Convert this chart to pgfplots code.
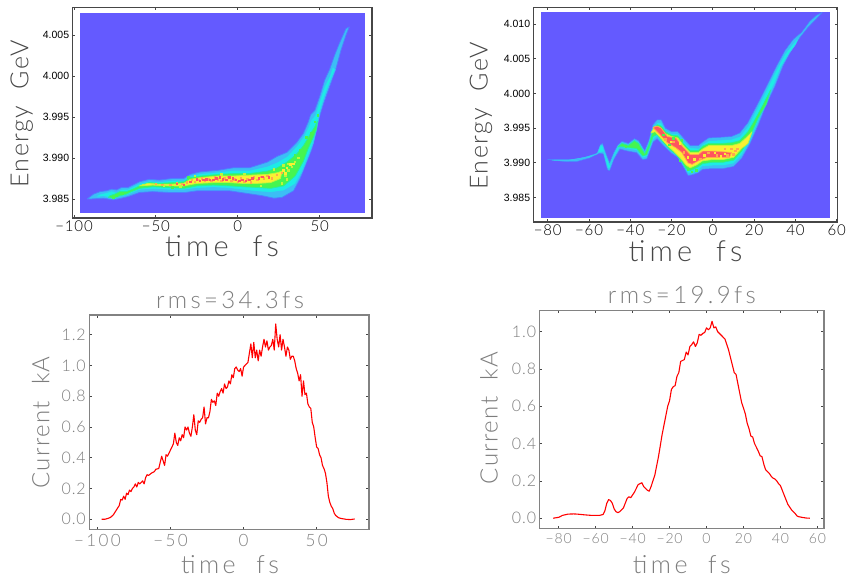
\documentclass[border=0pt]{standalone}
\usepackage{pgfplots}
\pgfplotsset{compat=1.18}
\usepackage{fontspec}
\setmainfont{Liberation Sans}
\newfontfamily\hf[LetterSpace=6]{Lato Light}
\newfontfamily\hfw[LetterSpace=14]{Lato Light}
\definecolor{bg}{RGB}{100,90,255}
\definecolor{la}{RGB}{75,130,255}
\definecolor{lb}{RGB}{60,190,245}
\definecolor{lc}{RGB}{30,235,230}
\definecolor{ld}{RGB}{40,240,150}
\definecolor{le}{RGB}{70,245,80}
\definecolor{lf}{RGB}{190,245,60}
\definecolor{lg}{RGB}{250,240,50}
\definecolor{lh}{RGB}{255,170,75}
\definecolor{li}{RGB}{255,85,95}
\definecolor{axd}{RGB}{70,70,70}
\definecolor{axg}{RGB}{130,130,130}
\definecolor{txg}{RGB}{125,125,125}
\pgfplotsset{
  base/.style={scale only axis, axis on top=true, tick align=inside, major tick length=2.6pt,
    xtick pos=both, ytick pos=both, tick style={line width=0.9pt},
    every axis x label/.style={anchor=center},
    every axis y label/.style={anchor=center,rotate=90}},
  heat/.style={base, axis line style={axd,line width=1.2pt}, tick style={axd,line width=0.9pt},
    xticklabel style={font=\hf\fontsize{15}{15}\selectfont,text=black,yshift=1pt},
    yticklabel style={font=\fontsize{10.5}{11}\selectfont,text=black},
    xlabel style={font=\hfw\fontsize{29}{29}\selectfont,text=axd},
    ylabel style={font=\hf\fontsize{25}{25}\selectfont,text=axd}},
  cur/.style={base, axis line style={axg,line width=1.2pt}, tick style={axd,line width=0.7pt},
    xticklabel style={text=txg,yshift=-2pt},
    yticklabel style={text=txg},
    xlabel style={font=\hfw\fontsize{25}{25}\selectfont,text=txg},
    ylabel style={font=\hf\fontsize{24}{24}\selectfont,text=txg},
    title style={text=txg,anchor=center}},
  poly/.style 2 args={fill=#1,draw=#2,line width=0.75pt,line join=round},
  specks/.style={only marks,mark=square*,mark size=0.75pt,color=#1,mark options={fill=#1,draw=#1,line width=0pt}},
  curve/.style={red,line width=1.1pt,line join=round,mark=none}
}
\begin{document}
\begin{tikzpicture}[x=1pt,y=1pt]
\useasboundingbox (0,0) rectangle (846,580);

% ---------- top left ----------
\begin{axis}[heat, at={(72.7pt,362pt)}, anchor=south west, width=299.3pt, height=210.7pt,
  xmin=-100.8, xmax=81.9, ymin=3.98268, ymax=4.0084,
  xtick={-100,-50,0,50}, xticklabels={−100,−50,0,50},
  ytick={3.985,3.990,3.995,4.000,4.005}, yticklabels={3.985,3.990,3.995,4.000,4.005},
  xlabel={time\ \ fs}, ylabel={Energy\ \ GeV},
  xlabel style={at={(axis description cs:0.499,-0.133)}},
  ylabel style={at={(axis description cs:-0.17,0.494)}}]
\addplot[fill=bg,draw=none] coordinates {(-96.3,3.98325)(77.8,3.98325)(77.8,4.00776)(-96.3,4.00776)} -- cycle;
\addplot[poly={lb}{la}] coordinates {(-92,3.9850)(-88,3.9856)(-84,3.9859)(-80,3.9860)(-77,3.9862)(-74,3.9861)(-71,3.9864)(-67,3.9864)(-64,3.9867)(-60,3.9871)(-54,3.9874)(-48,3.9873)(-40,3.9875)(-33,3.9875)(-29,3.9880)(-23,3.9883)(-12,3.9885)(-3,3.9888)(7,3.9888)(18,3.9895)(24,3.9902)(30,3.9907)(36,3.9919)(40,3.9930)(43,3.9944)(44.5,3.9953)(47,3.9958)(50,3.9975)(53,3.9995)(56,4.0008)(59,4.0025)(62,4.0040)(66,4.0058)(68,4.0060)(66,4.0050)(63,4.0032)(60,4.0010)(57,3.9993)(52,3.9965)(49,3.9945)(47,3.9925)(45,3.9910)(42,3.9895)(38,3.9875)(34,3.9860)(27,3.9852)(22,3.9851)(15,3.9854)(5,3.9857)(-5,3.9860)(-15,3.9860)(-25,3.9860)(-32,3.9858)(-42,3.9858)(-52,3.9859)(-60,3.9858)(-67,3.9853)(-71,3.9851)(-76,3.9849)(-82,3.9851)(-90,3.9850)} -- cycle;
\addplot[poly={lc}{lb}] coordinates {(-88,3.9852)(-84,3.9856)(-80,3.9858)(-77,3.9860)(-74,3.9858)(-71,3.9862)(-67,3.9862)(-64,3.9865)(-60,3.9869)(-54,3.9872)(-48,3.9871)(-40,3.9873)(-33,3.9873)(-29,3.9878)(-23,3.9881)(-12,3.9883)(-3,3.9885)(7,3.9885)(18,3.9890)(24,3.9895)(30,3.9902)(36,3.9915)(40,3.9926)(43,3.9938)(44.5,3.9946)(47,3.9952)(50,3.9970)(53,3.9988)(56,4.0000)(58,4.0012)(59.5,4.0008)(57,3.9996)(53,3.9975)(50,3.9955)(48,3.9935)(46,3.9918)(43,3.9902)(39,3.9882)(35,3.9868)(28,3.9860)(20,3.9858)(12,3.9859)(3,3.9861)(-5,3.9863)(-15,3.9864)(-25,3.9863)(-33,3.9861)(-42,3.9861)(-52,3.9862)(-60,3.9861)(-67,3.9855)(-71,3.9853)(-76,3.9851)(-82,3.9853)} -- cycle;
\addplot[poly={le}{ld}] coordinates {(-78,3.9854)(-75,3.9856)(-72,3.9859)(-68,3.9859)(-64,3.9862)(-60,3.9866)(-54,3.9870)(-48,3.9869)(-40,3.9870)(-33,3.9871)(-29,3.9876)(-23,3.9878)(-12,3.9880)(-3,3.9881)(7,3.9881)(18,3.9884)(24,3.9888)(30,3.9895)(36,3.9905)(40,3.9915)(43,3.9925)(45,3.9932)(47,3.9938)(48.5,3.9945)(48,3.9935)(46,3.9925)(43,3.9912)(40,3.9896)(35,3.9878)(28,3.9866)(20,3.9863)(12,3.9864)(3,3.9865)(-5,3.9866)(-15,3.9867)(-25,3.9866)(-33,3.9863)(-42,3.9864)(-52,3.9865)(-60,3.9863)(-65,3.9859)(-68,3.9856)(-72,3.9854)(-76,3.9851)(-79,3.9852)} -- cycle;
\addplot[poly={lg}{lf}] coordinates {(-55,3.9869)(-48,3.9868)(-40,3.9868)(-33,3.9869)(-29,3.9874)(-23,3.9876)(-12,3.9878)(-3,3.9878)(7,3.9879)(18,3.9880)(24,3.9882)(27,3.9884)(26,3.9875)(20,3.9870)(12,3.9869)(3,3.9869)(-5,3.9870)(-15,3.9870)(-25,3.9869)(-33,3.9866)(-42,3.9866)(-52,3.9867)(-60,3.9866)} -- cycle;
\addplot[specks=lh] coordinates {(-50,3.9868)(-46,3.9867)(-41,3.9867)(-37,3.9869)(-34,3.9868)(-31,3.9870)(-28,3.9873)(-26,3.9871)(-24,3.9873)(-22,3.9875)(-20,3.9872)(-18,3.9874)(-16,3.9872)(-14,3.9876)(-12,3.9874)(-10,3.9872)(-8,3.9875)(-6,3.9877)(-4,3.9872)(-2,3.9874)(0,3.9871)(2,3.9875)(4,3.9871)(6,3.9874)(8,3.9870)(10,3.9876)(12,3.9873)(14,3.9877)(16,3.9875)(18,3.9878)(21,3.9875)(24,3.9879)(27,3.9882)};
\addplot[specks=li] coordinates {(-37,3.9868)(-33,3.9867)(-29,3.9871)(-25,3.9874)(-23,3.9872)(-21,3.9873)(-19,3.9874)(-17,3.9873)(-15,3.9873)(-13,3.9875)(-11,3.9876)(-9,3.9874)(-7,3.9873)(-5,3.9876)(-3,3.9875)(-1,3.9873)(1,3.9872)(3,3.9873)(5,3.9872)(7,3.9873)(9,3.9875)(13,3.9875)(15,3.9877)(19,3.9876)};
\addplot[specks=le] coordinates {(-76,3.9852)(-74,3.9854)(-70,3.9856)(-40,3.9864)(-30,3.9876)(35,3.9903)(38,3.9910)(42,3.9925)(44,3.9920)(45,3.9930)(47,3.9944)(49,3.9952)};
\addplot[specks=lf] coordinates {(-58,3.9867)(-45,3.9866)(-35,3.9865)(-26,3.9878)(-10,3.9880)(4,3.9880)(22,3.9886)(28,3.9891)(31,3.9893)(35,3.9895)(37,3.9900)(27,3.9869)(14,3.9866)(29,3.9878)(31,3.9885)(33,3.9889)(30,3.9874)};
\addplot[specks=lg] coordinates {(28,3.9885)(30,3.9888)(32,3.9892)(29,3.9881)(34,3.9893)};
\end{axis}

% ---------- top right ----------
\begin{axis}[heat, at={(533.7pt,358pt)}, anchor=south west, width=303.6pt, height=214.3pt,
  xmin=-86.8, xmax=60.3, ymin=3.9815, ymax=4.01235,
  xtick={-80,-60,-40,-20,0,20,40,60}, xticklabels={−80,−60,−40,−20,0,20,40,60},
  ytick={3.985,3.990,3.995,4.000,4.005,4.010}, yticklabels={3.985,3.990,3.995,4.000,4.005,4.010},
  xlabel={time\ \ fs}, ylabel={Energy\ \ GeV},
  xlabel style={at={(axis description cs:0.50,-0.135)}},
  ylabel style={at={(axis description cs:-0.174,0.495)}}]
\addplot[fill=bg,draw=none] coordinates {(-83.3,3.98212)(57,3.98212)(57,4.01178)(-83.3,4.01178)} -- cycle;
\addplot[fill=lb,draw=la,line width=0.5pt,line join=round] coordinates {(-80,3.9905)(-72,3.9905)(-66,3.9905)(-60,3.9910)(-56,3.9914)(-54.5,3.9926)(-53.5,3.9928)(-52,3.9915)(-50,3.9900)(-48,3.9915)(-46,3.9926)(-44,3.9931)(-41,3.9928)(-38,3.9935)(-36,3.9932)(-33,3.9918)(-31,3.9932)(-29,3.9955)(-27,3.9962)(-25,3.9962)(-23,3.9950)(-20,3.9945)(-17,3.9945)(-14,3.9935)(-11,3.9925)(-7,3.9925)(-5,3.9930)(-2,3.9936)(4,3.9937)(9,3.9938)(13,3.9943)(17,3.9958)(20,3.9975)(24,3.9998)(28,4.0022)(31,4.0040)(35,4.0062)(39,4.0078)(43,4.0088)(47,4.0104)(50,4.0112)(53,4.0117)(50,4.0107)(46,4.0095)(42,4.0080)(38,4.0062)(34,4.0040)(30,4.0010)(26,3.9985)(22,3.9955)(18,3.9928)(14,3.9907)(10,3.9895)(5,3.9892)(0,3.9892)(-5,3.9891)(-7,3.9886)(-10,3.9883)(-12,3.9882)(-14,3.9893)(-17,3.9908)(-20,3.9914)(-24,3.9925)(-27,3.9935)(-29,3.9930)(-32,3.9906)(-34,3.9905)(-37,3.9915)(-41,3.9917)(-45,3.9920)(-48,3.9905)(-50,3.9889)(-51,3.9890)(-53,3.9913)(-55,3.9914)(-60,3.9907)(-66,3.9902)(-72,3.9902)} -- cycle;
\addplot[fill=lc,draw=lb,line width=0.5pt,line join=round] coordinates {(-78,3.9904)(-70,3.9904)(-62,3.9908)(-56,3.9913)(-54.5,3.9925)(-53.5,3.9926)(-52,3.9912)(-50,3.9897)(-48,3.9912)(-46,3.9924)(-44,3.9929)(-41,3.9926)(-38,3.9933)(-36,3.9930)(-33,3.9915)(-31,3.9929)(-29,3.9950)(-27,3.9958)(-25,3.9958)(-23,3.9947)(-20,3.9942)(-17,3.9942)(-14,3.9931)(-11,3.9922)(-7,3.9921)(-5,3.9927)(-2,3.9932)(4,3.9933)(9,3.9934)(13,3.9938)(17,3.9953)(20,3.9970)(24,3.9993)(28,4.0017)(31,4.0035)(35,4.0057)(39,4.0072)(42,4.0083)(40,4.0070)(37,4.0058)(33,4.0038)(30,4.0015)(26,3.9990)(22,3.9960)(18,3.9932)(14,3.9911)(10,3.9899)(5,3.9896)(0,3.9896)(-5,3.9895)(-7,3.9889)(-10,3.9886)(-12,3.9885)(-14,3.9896)(-17,3.9910)(-20,3.9917)(-24,3.9928)(-27,3.9938)(-29,3.9933)(-32,3.9909)(-34,3.9907)(-37,3.9918)(-41,3.9920)(-45,3.9923)(-48,3.9908)(-50,3.9892)(-51,3.9893)(-53,3.9916)(-55,3.9915)(-60,3.9908)(-70,3.9903)} -- cycle;
\addplot[fill=le,draw=ld,line width=0.7pt,line join=round] coordinates {(-46,3.9923)(-44,3.9928)(-41,3.9925)(-38,3.9932)(-36,3.9928)(-33,3.9913)(-31,3.9926)(-29,3.9946)(-27,3.9955)(-25,3.9953)(-23,3.9945)(-20,3.9940)(-17,3.9939)(-14,3.9927)(-11,3.9918)(-7,3.9918)(-5,3.9924)(-2,3.9928)(4,3.9928)(9,3.9929)(13,3.9932)(17,3.9945)(20,3.9960)(24,3.9982)(28,4.0005)(26,3.9985)(22,3.9965)(18,3.9938)(14,3.9917)(10,3.9904)(5,3.9901)(0,3.9901)(-5,3.9899)(-8,3.9893)(-11,3.9889)(-13,3.9892)(-15,3.9902)(-18,3.9913)(-21,3.9920)(-24,3.9930)(-27,3.9941)(-29,3.9938)(-32,3.9912)(-34,3.9910)(-37,3.9921)(-41,3.9922)(-45,3.9924)} -- cycle;
\addplot[fill=lg,draw=lf,line width=0.7pt,line join=round] coordinates {(-30,3.9943)(-28,3.9953)(-26,3.9952)(-23,3.9942)(-20,3.9938)(-17,3.9936)(-14,3.9924)(-11,3.9915)(-7,3.9915)(-5,3.9920)(-2,3.9925)(4,3.9925)(9,3.9925)(13,3.9928)(16,3.9936)(19,3.9945)(17,3.9928)(14,3.9921)(10,3.9908)(5,3.9905)(0,3.9905)(-5,3.9903)(-8,3.9897)(-11,3.9893)(-13,3.9897)(-16,3.9908)(-19,3.9917)(-22,3.9925)(-25,3.9935)(-28,3.9945)} -- cycle;
\addplot[fill=li,draw=lh,line width=0.7pt,line join=round] coordinates {(-29,3.9951)(-27,3.9953)(-25,3.9950)(-22,3.9938)(-18,3.9936)(-15,3.9925)(-11,3.9912)(-7,3.9912)(-5,3.9917)(0,3.9917)(5,3.9916)(9,3.9915)(8,3.9908)(3,3.9908)(-3,3.9908)(-7,3.9903)(-10,3.9898)(-12,3.9900)(-15,3.9915)(-18,3.9922)(-22,3.9929)(-26,3.9942)} -- cycle;
\addplot[specks=lg] coordinates {(-20,3.9930)(-16,3.9928)(-12,3.9908)(-9,3.9905)(-4,3.9911)(1,3.9914)(4,3.9909)(6,3.9913)};
\addplot[specks=lh] coordinates {(-23,3.9934)(-19,3.9930)(-14,3.9915)(-6,3.9906)(-2,3.9914)(2,3.9911)(7,3.9911)(10,3.9912)(11,3.9917)(12,3.9920)(9,3.9920)(6,3.9920)};
\addplot[specks=le] coordinates {(-24,3.9940)(-21,3.9926)(-16,3.9903)(-12,3.9890)(-10,3.9887)(-8,3.9889)(-15,3.9932)(-19,3.9935)(-42,3.9924)};
\end{axis}

% ---------- bottom left ----------
\begin{axis}[cur, at={(89.3pt,50.7pt)}, anchor=south west, width=279.7pt, height=214.3pt,
  xmin=-105.5, xmax=85.8, ymin=-0.065, ymax=1.328,
  xtick={-100,-50,0,50}, xticklabels={−100,−50,0,50},
  ytick={0,0.2,0.4,0.6,0.8,1.0,1.2}, yticklabels={0.0,0.2,0.4,0.6,0.8,1.0,1.2},
  xticklabel style={font=\hfw\fontsize{17}{17}\selectfont},
  yticklabel style={font=\hf\fontsize{16}{16}\selectfont},
  xlabel={time\ \ fs}, ylabel={Current\ \ kA}, title={\hfw\fontsize{24}{24}\selectfont rms=34.3fs},
  xlabel style={at={(axis description cs:0.503,-0.167)}},
  ylabel style={at={(axis description cs:-0.174,0.498)}},
  title style={at={(axis description cs:0.503,1.043)}}]
\addplot[curve] coordinates {(-97,0)(-95,0)(-93,0.005)(-91,0.012)(-89,0.03)(-87,0.06)(-85,0.09)(-84,0.13)(-83,0.125)(-82,0.15)(-81,0.13)(-80,0.17)(-79,0.16)(-78,0.19)(-77,0.18)(-76,0.2)(-75,0.21)(-74,0.23)(-73,0.21)(-72,0.24)(-71,0.23)(-70,0.24)(-69,0.25)(-68,0.23)(-67,0.27)(-66,0.29)(-65,0.285)(-63,0.3)(-61,0.31)(-60,0.325)(-58,0.33)(-57,0.37)(-56,0.41)(-55,0.38)(-54,0.35)(-53,0.42)(-52,0.41)(-50,0.45)(-48,0.49)(-47,0.56)(-46,0.5)(-45,0.48)(-44,0.53)(-43,0.51)(-42,0.55)(-41,0.53)(-40,0.6)(-39,0.58)(-38,0.6)(-37,0.56)(-36,0.54)(-35,0.6)(-34,0.68)(-33,0.58)(-32,0.55)(-31,0.64)(-30,0.63)(-29,0.65)(-28,0.66)(-27,0.73)(-26,0.62)(-25,0.66)(-24,0.66)(-23,0.7)(-22,0.78)(-21,0.76)(-20,0.77)(-19,0.74)(-18,0.82)(-17,0.8)(-16,0.83)(-15,0.85)(-14,0.82)(-13,0.88)(-12,0.85)(-11,0.86)(-10,0.9)(-9,0.88)(-8,0.94)(-7,0.92)(-6,0.98)(-5,0.99)(-4,0.97)(-3,0.96)(-2,0.98)(-1,0.93)(0,0.99)(1,1.0)(2,1.01)(3,1.02)(4,1.08)(5,1.14)(6,1.05)(7,1.15)(8,1.05)(9,1.1)(10,1.03)(11,1.1)(12,1.06)(13,1.12)(14,1.17)(15,1.12)(16,1.16)(17,1.1)(18,1.12)(19,1.13)(20,1.17)(21,1.1)(22,1.27)(23,1.17)(24,1.12)(25,1.2)(26,1.1)(27,1.17)(28,1.12)(29,1.06)(30,1.12)(31,1.1)(32,1.04)(33,1.06)(34,1.06)(35,1.03)(36,0.98)(37,0.95)(38,0.9)(39,0.94)(40,0.8)(41,0.9)(42,0.81)(43,0.82)(44,0.75)(45,0.73)(46,0.72)(47,0.63)(48,0.6)(49,0.53)(50,0.47)(51,0.46)(52,0.42)(53,0.4)(54,0.35)(55,0.33)(56,0.3)(57,0.24)(58,0.15)(59,0.11)(60,0.085)(61,0.07)(62,0.04)(63,0.025)(65,0.01)(67,0.005)(70,0)(73,-0.002)(76,0.002)};
\end{axis}

% ---------- bottom right ----------
\begin{axis}[cur, at={(539.7pt,51.7pt)}, anchor=south west, width=284.3pt, height=218pt,
  xmin=-90.3, xmax=63.6, ymin=-0.054, ymax=1.114,
  xtick={-80,-60,-40,-20,0,20,40,60}, xticklabels={−80,−60,−40,−20,0,20,40,60},
  ytick={0,0.2,0.4,0.6,0.8,1.0}, yticklabels={0.0,0.2,0.4,0.6,0.8,1.0},
  xticklabel style={font=\hf\fontsize{14}{14}\selectfont},
  yticklabel style={font=\hf\fontsize{16}{16}\selectfont},
  xlabel={time\ \ fs}, ylabel={Current\ \ kA}, title={\hfw\fontsize{24}{24}\selectfont rms=19.9fs},
  xlabel style={at={(axis description cs:0.50,-0.168)}},
  ylabel style={at={(axis description cs:-0.178,0.505)}},
  title style={at={(axis description cs:0.50,1.044)}}]
\addplot[curve] coordinates {(-83,0)(-80,0.005)(-78,0.015)(-75,0.022)(-72,0.023)(-70,0.022)(-66,0.018)(-62,0.015)(-58,0.015)(-56,0.02)(-55,0.04)(-54,0.08)(-53,0.1)(-52,0.095)(-51,0.08)(-50,0.05)(-49,0.035)(-48,0.03)(-47,0.035)(-46,0.045)(-45,0.055)(-44,0.08)(-43,0.105)(-42,0.115)(-41,0.11)(-40,0.125)(-39,0.14)(-38,0.16)(-37,0.18)(-36,0.185)(-35,0.19)(-34,0.17)(-33,0.16)(-32,0.15)(-31,0.145)(-30,0.17)(-29,0.2)(-28,0.23)(-27,0.28)(-26,0.33)(-25,0.39)(-24,0.45)(-23,0.5)(-22,0.55)(-21,0.6)(-20,0.63)(-19,0.69)(-18,0.705)(-17,0.71)(-16,0.76)(-15,0.78)(-14,0.84)(-13,0.845)(-12,0.85)(-11,0.89)(-10,0.875)(-9,0.92)(-8,0.93)(-7,0.945)(-6,0.92)(-5,0.94)(-4,0.985)(-3,0.98)(-2,0.99)(-1,0.995)(0,1.02)(1,1.01)(2,1.02)(3,1.055)(4,1.02)(5,1.025)(6,1.0)(7,0.99)(8,0.98)(9,0.97)(10,0.96)(11,0.93)(12,0.9)(13,0.86)(14,0.82)(15,0.78)(16,0.77)(17,0.72)(18,0.67)(19,0.62)(20,0.59)(21,0.56)(22,0.51)(23,0.48)(24,0.44)(25,0.435)(26,0.4)(27,0.38)(28,0.36)(29,0.335)(30,0.33)(31,0.29)(32,0.26)(33,0.25)(34,0.24)(35,0.225)(36,0.215)(37,0.21)(38,0.2)(39,0.185)(40,0.175)(41,0.15)(42,0.125)(43,0.1)(44,0.075)(45,0.06)(46,0.045)(47,0.035)(48,0.025)(49,0.012)(50,0.008)(52,0.004)(54,0.001)(56,0)};
\end{axis}
\end{tikzpicture}
\end{document}
